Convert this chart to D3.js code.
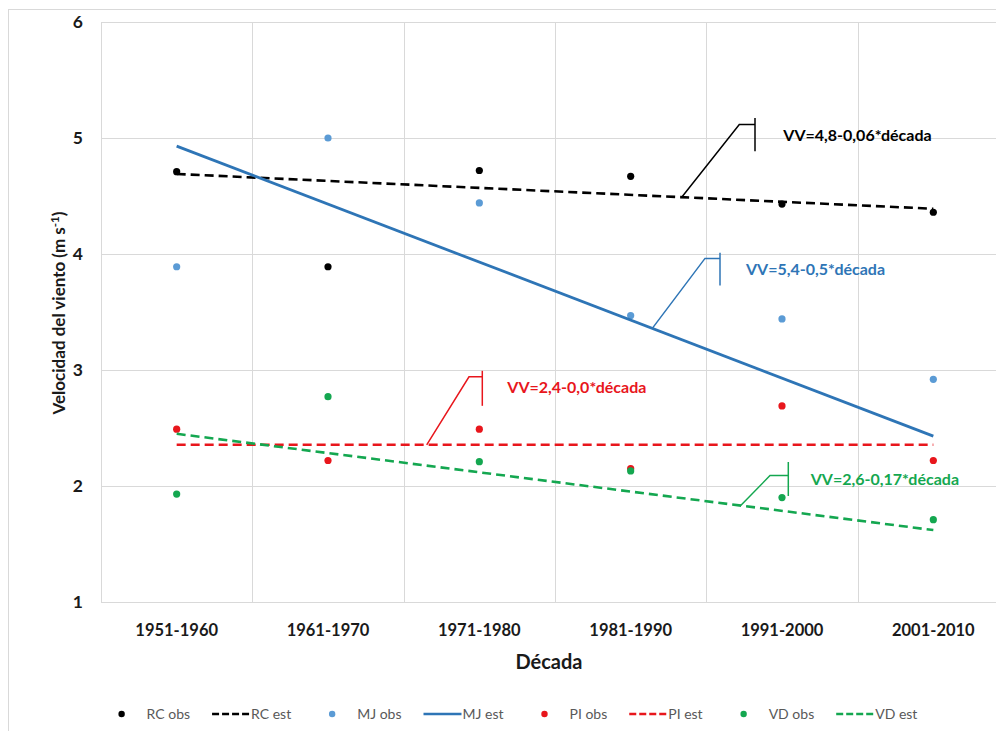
<!DOCTYPE html>
<html>
<head>
<meta charset="utf-8">
<script src="https://cdn.jsdelivr.net/npm/d3@7"></script>
<style>
  html, body { margin: 0; padding: 0; background: #fff; overflow: hidden; }
  svg { display: block; font-family: Lato, "Open Sans", sans-serif; }
</style>
</head>
<body>
<svg id="chart" width="996" height="731"></svg>
<script>
// Decades on the x axis
const decades = ["1951-1960", "1961-1970", "1971-1980", "1981-1990", "1991-2000", "2001-2010"];
const yTicks = [1, 2, 3, 4, 5, 6];

// Observed mean wind speed per decade (m s-1)
const rcObs = [4.71, 3.89, 4.72, 4.67, 4.43, 4.36];
const mjObs = [3.89, 5.00, 4.44, 3.47, 3.44, 2.92];
const piObs = [2.49, 2.22, 2.49, 2.15, 2.69, 2.22];
const vdObs = [1.93, 2.77, 2.21, 2.13, 1.90, 1.71];

// Fitted linear trends: value at the first and at the last decade
const rcEst = [4.69, 4.39];
const mjEst = [4.93, 2.43];
const piEst = [2.355, 2.355];
const vdEst = [2.45, 1.62];

// Regression equations shown next to each trend
const equations = ["VV=4,8-0,06*década", "VV=5,4-0,5*década", "VV=2,4-0,0*década", "VV=2,6-0,17*década"];

const C = { rc: "#000000", mjDot: "#5b9bd5", mj: "#2e75b6", pi: "#e8161c", vd: "#14a750", grid: "#d9d9d9" };

const svg = d3.select("#chart");

// outer chart frame
svg.append("rect").attr("x", 8.5).attr("y", 9.5).attr("width", 1030).attr("height", 760)
  .attr("fill", "#fff").attr("stroke", C.grid);

const x = d3.scaleBand().domain(decades).range([101, 1009]);
const xc = d => x(d) + x.bandwidth() / 2;
const y = d3.scaleLinear().domain([1, 6]).range([602, 22]);

// grid
const grid = svg.append("g");
grid.selectAll("line.h").data(yTicks).join("line")
  .attr("x1", 101).attr("x2", 1009)
  .attr("y1", d => y(d) + 0.5).attr("y2", d => y(d) + 0.5)
  .attr("stroke", C.grid).attr("stroke-width", 1);
const bounds = decades.map(d => x(d)).concat([x.range()[1]]);
grid.selectAll("line.v").data(bounds).join("line")
  .attr("x1", d => Math.round(d) + 0.5).attr("x2", d => Math.round(d) + 0.5)
  .attr("y1", y(6)).attr("y2", y(1))
  .attr("stroke", C.grid).attr("stroke-width", 1);

// y axis labels
const yAxis = d3.axisLeft(y).tickValues(yTicks).tickSize(0).tickPadding(0).tickFormat(d3.format("d"));
const gy = svg.append("g").attr("transform", "translate(83,0)").call(yAxis);
gy.select(".domain").remove();
gy.selectAll("text").attr("font-size", 17.5).attr("font-weight", 700).attr("fill", "#1a1a1a")
  .attr("font-family", "Lato, sans-serif");

// x axis labels
const xAxis = d3.axisBottom(x).tickSize(0).tickPadding(0);
const gx = svg.append("g").attr("transform", "translate(0,624)").call(xAxis);
gx.select(".domain").remove();
gx.selectAll("text").attr("font-size", 16.5).attr("font-weight", 700).attr("fill", "#1a1a1a")
  .attr("font-family", "Lato, sans-serif");

// axis titles
svg.append("text").attr("x", 549).attr("y", 669).attr("text-anchor", "middle")
  .attr("font-size", 20).attr("font-weight", 700).attr("fill", "#1a1a1a").text("Década");
const yt = svg.append("text").attr("transform", "translate(65,313) rotate(-90)")
  .attr("text-anchor", "middle").attr("font-size", 17).attr("font-weight", 700).attr("fill", "#1a1a1a");
yt.append("tspan").text("Velocidad del viento (m s");
yt.append("tspan").attr("dy", -6).attr("font-size", 11.5).text("-1");
yt.append("tspan").attr("dy", 6).text(")");

// series (drawn in legend order, so later series sit on top)
const first = decades[0], last = decades[decades.length - 1];
const series = [
  { obs: rcObs, est: rcEst, dot: C.rc, line: C.rc, dash: true, name: "RC" },
  { obs: mjObs, est: mjEst, dot: C.mjDot, line: C.mj, dash: false, name: "MJ" },
  { obs: piObs, est: piEst, dot: C.pi, line: C.pi, dash: true, name: "PI" },
  { obs: vdObs, est: vdEst, dot: C.vd, line: C.vd, dash: true, name: "VD" }
];
const plot = svg.append("g");
series.forEach(s => {
  plot.append("g").selectAll("circle").data(s.obs).join("circle")
    .attr("cx", (d, i) => xc(decades[i])).attr("cy", d => y(d)).attr("r", 3.6).attr("fill", s.dot);
  plot.append("path")
    .attr("d", d3.line()([[xc(first), y(s.est[0])], [xc(last), y(s.est[1])]]))
    .attr("fill", "none").attr("stroke", s.line).attr("stroke-width", s.dash ? 2.6 : 2.8)
    .attr("stroke-dasharray", s.dash ? "9,5" : null);
});

// callouts with the regression equations
const estAt = (s, pos) => s.est[0] + (s.est[1] - s.est[0]) * pos / (decades.length - 1);
const callouts = [
  { s: series[0], px: 681.7, elbow: [57.6, -72.7], bar: [73.3, -79.3, -46], text: [101.6, -62], color: C.rc },
  { s: series[1], px: 652.3, elbow: [52.7, -70], bar: [67.7, -75.6, -43], text: [93.7, -59.3], color: C.mj },
  { s: series[2], px: 426.7, elbow: [42.3, -68], bar: [55.6, -74, -39], text: [80.6, -57], color: C.pi },
  { s: series[3], px: 740.7, elbow: [29.3, -30], bar: [47.6, -43.6, -9.6], text: [70, -26.6], color: C.vd }
];
callouts.forEach((c, i) => {
  const pos = (c.px - xc(first)) / x.step();
  const ax = c.px, ay = y(estAt(c.s, pos));
  const g = svg.append("g").attr("stroke", c.color).attr("stroke-width", 1.5).attr("fill", "none");
  g.append("path").attr("d", d3.line()([[ax, ay], [ax + c.elbow[0], ay + c.elbow[1]], [ax + c.bar[0], ay + c.elbow[1]]]));
  g.append("line").attr("x1", ax + c.bar[0]).attr("x2", ax + c.bar[0])
    .attr("y1", ay + c.bar[1]).attr("y2", ay + c.bar[2]);
  svg.append("text").attr("x", ax + c.text[0]).attr("y", ay + c.text[1]).attr("dy", "0.35em")
    .attr("font-size", 16).attr("font-weight", 700).attr("fill", c.color).text(equations[i]);
});

// legend
const legendItems = [];
series.forEach(s => {
  legendItems.push({ label: s.name + " obs", color: s.dot, kind: "dot" });
  legendItems.push({ label: s.name + " est", color: s.line, kind: s.dash ? "dash" : "line" });
});
const lg = svg.append("g");
const ly = 714;
let cx = 0;
legendItems.forEach(it => {
  const g = lg.append("g").attr("transform", `translate(${cx},0)`);
  if (it.kind === "dot") {
    g.append("circle").attr("cx", 19).attr("cy", ly).attr("r", 3.2).attr("fill", it.color);
  } else {
    g.append("line").attr("x1", 0).attr("x2", 38).attr("y1", ly).attr("y2", ly)
      .attr("stroke", it.color).attr("stroke-width", 2.6).attr("stroke-dasharray", it.kind === "dash" ? "7,3" : null);
  }
  const tx = it.kind === "dot" ? 44 : 39;
  const t = g.append("text").attr("x", tx).attr("y", ly).attr("dy", "0.35em")
    .attr("font-size", 14).attr("fill", "#595959").text(it.label);
  cx += tx + t.node().getComputedTextLength() + 22;
});
const lw = cx - 22;
lg.attr("transform", `translate(${510 - lw / 2},0)`);
</script>
</body>
</html>
